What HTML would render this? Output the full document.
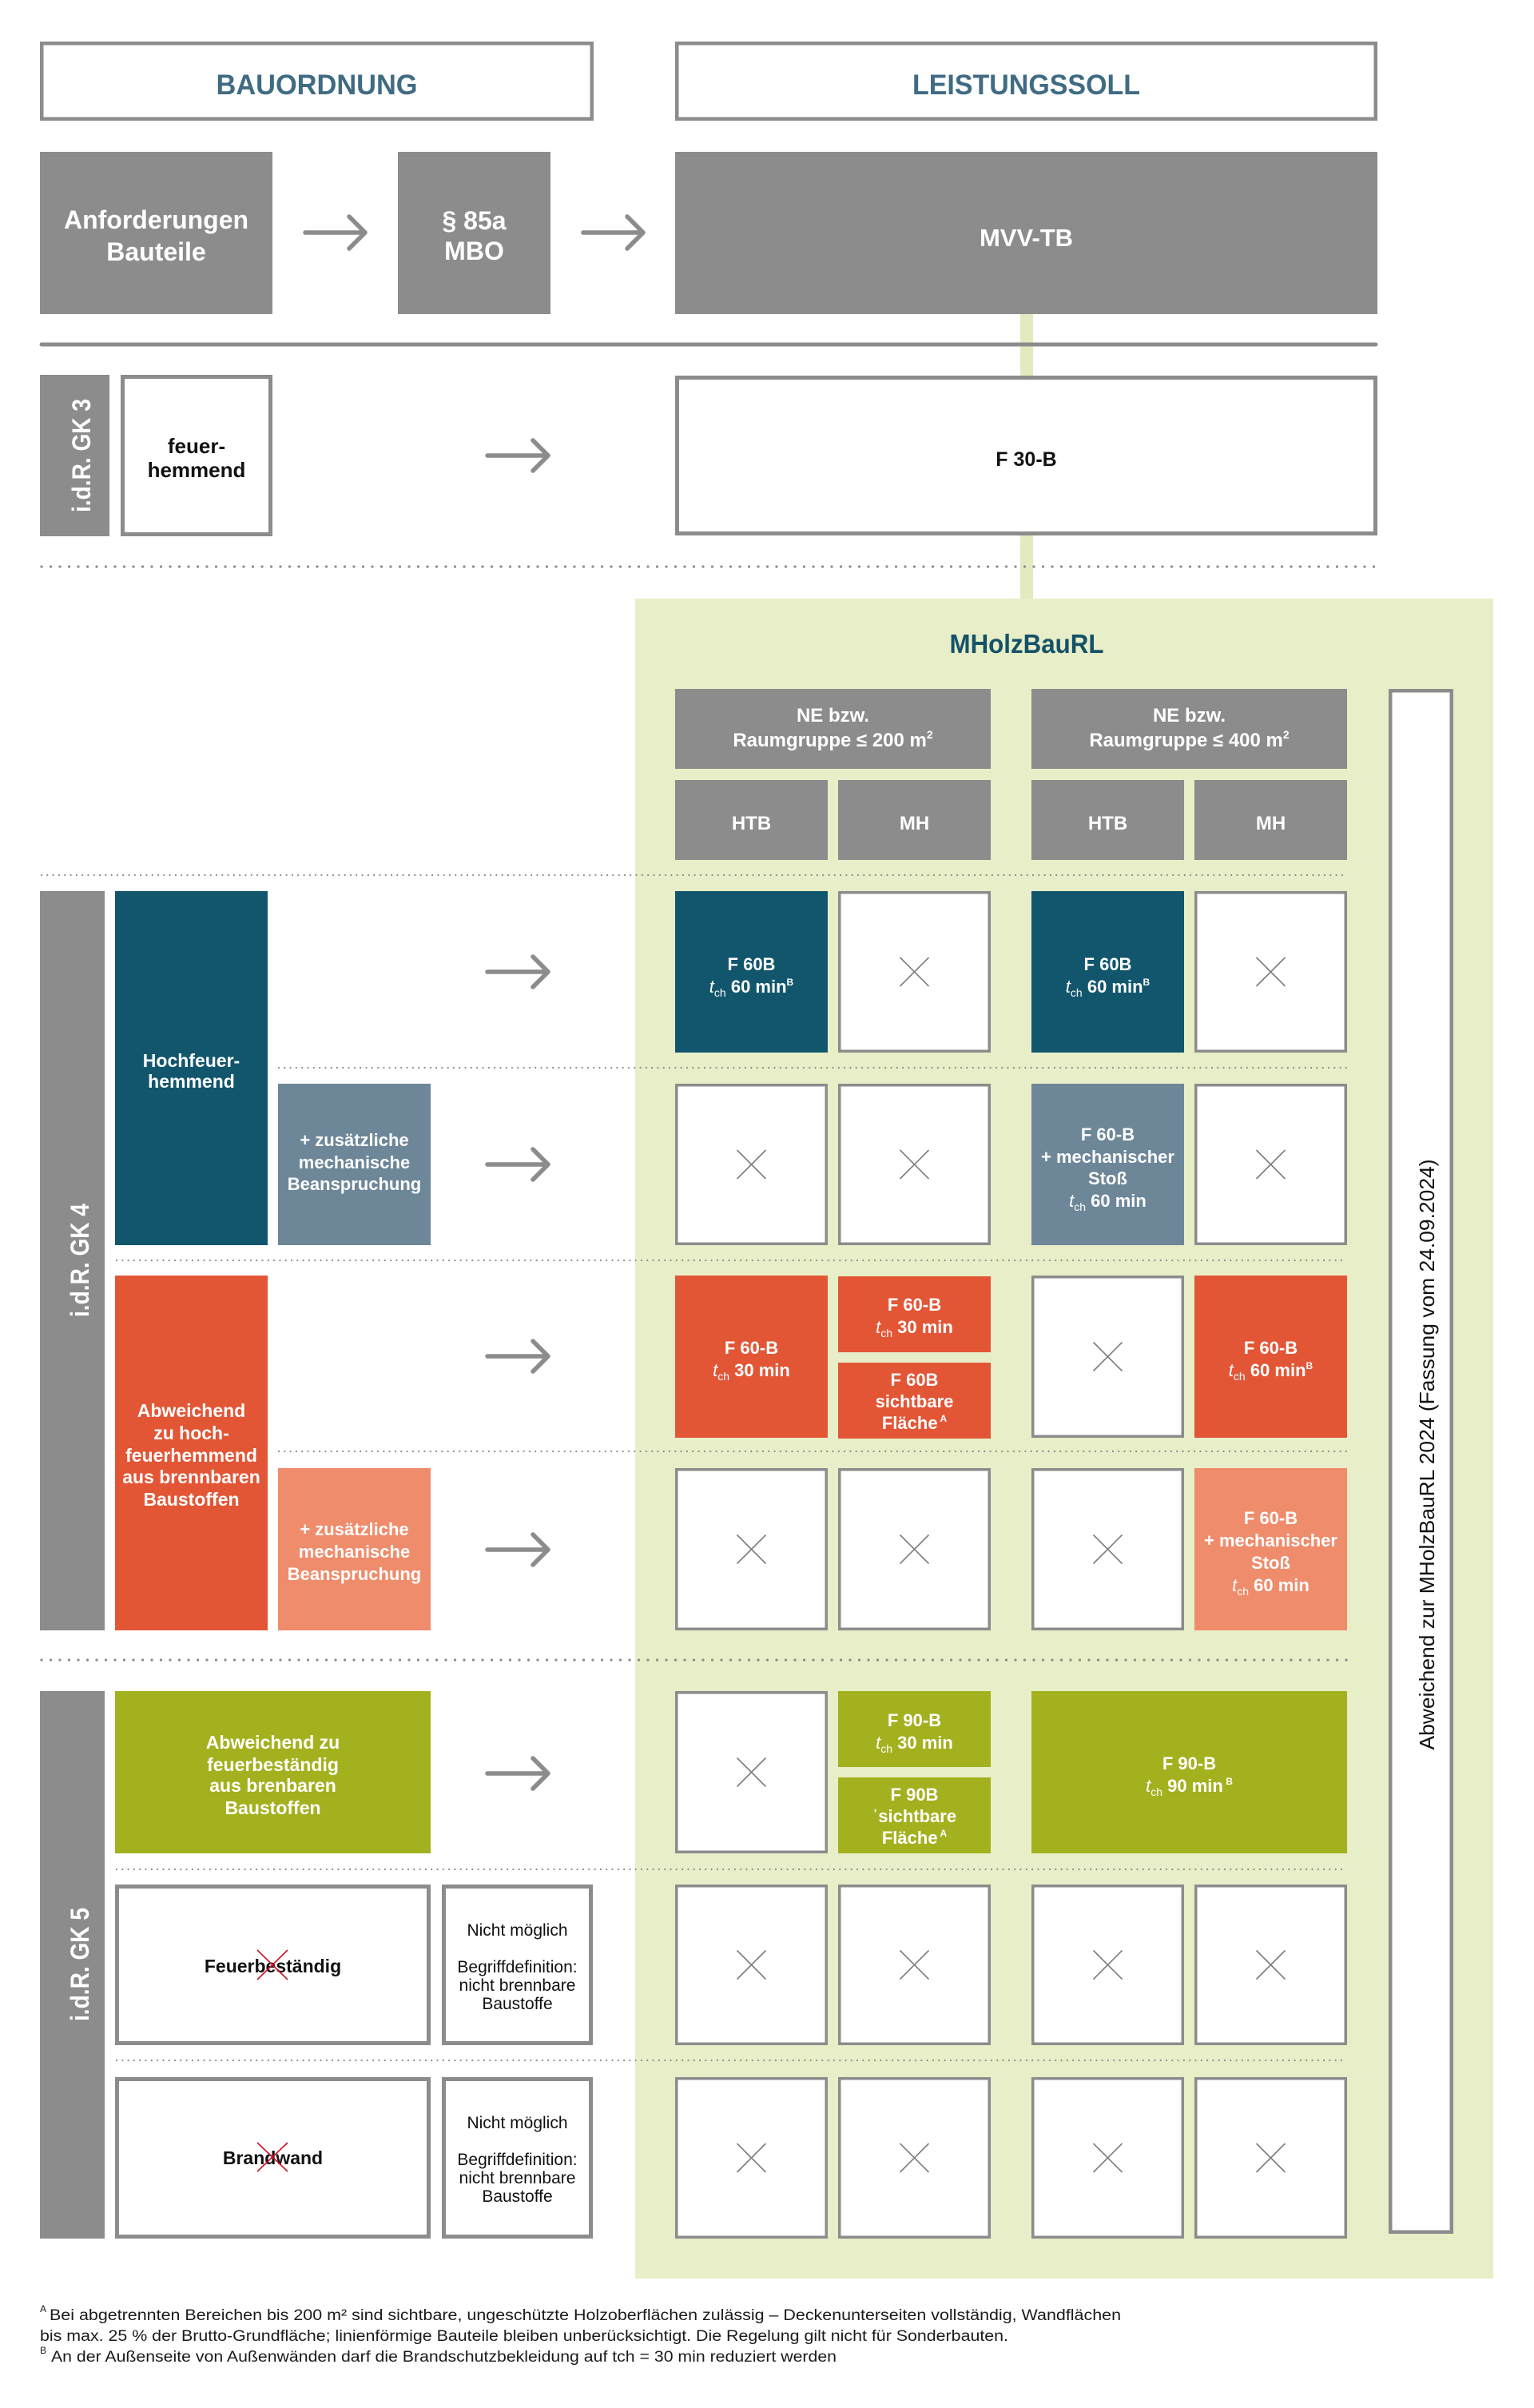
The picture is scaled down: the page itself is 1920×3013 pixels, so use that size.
<!DOCTYPE html>
<html>
<head>
<meta charset="utf-8">
<style>
html,body{margin:0;padding:0;background:#fff;}
svg{display:block;}
text{font-family:"Liberation Sans",Arial,sans-serif;}
.w{fill:#fff;font-weight:bold;text-anchor:middle;}
.c{fill:#fff;font-weight:bold;text-anchor:middle;font-size:22px;}
.k{fill:#111;text-anchor:middle;}
.xc{fill:#fff;stroke:#8c8c8c;stroke-width:3.5;}
.xx{stroke:#7d7d7d;stroke-width:1.6;fill:none;}
.arr{stroke:#8c8c8c;stroke-width:5.5;fill:none;stroke-linecap:round;stroke-linejoin:round;}
.dot{stroke:#8a8a8a;stroke-width:2.2;stroke-dasharray:0 7.3;stroke-linecap:round;}
.bdot{stroke:#8a8a8a;stroke-width:3.2;stroke-dasharray:0 11.5;stroke-linecap:round;}
.ob{fill:#fff;stroke:#8c8c8c;}
.rx{stroke:#d0102a;stroke-width:1.6;}
</style>
</head>
<body>
<svg width="1920" height="3013" viewBox="0 0 1920 3013" xmlns="http://www.w3.org/2000/svg">

<!-- green panel and connector -->
<rect x="795" y="749" width="1074" height="2102" fill="#e8eec7"/>
<rect x="1277" y="393" width="16" height="356" fill="#e3eabf"/>

<!-- top titles -->
<rect class="ob" x="52.25" y="54.25" width="688.5" height="94.5" stroke-width="4.5"/>
<text x="396.5" y="118" font-size="35" font-weight="bold" fill="#3f6b83" text-anchor="middle" textLength="252" lengthAdjust="spacingAndGlyphs">BAUORDNUNG</text>
<rect class="ob" x="847.25" y="54.25" width="874.5" height="94.5" stroke-width="4.5"/>
<text x="1284.5" y="118" font-size="35" font-weight="bold" fill="#3f6b83" text-anchor="middle" textLength="285" lengthAdjust="spacingAndGlyphs">LEISTUNGSSOLL</text>

<!-- second row gray boxes -->
<rect x="50" y="190" width="291" height="203" fill="#8c8c8c"/>
<text class="w" x="195.5" y="286" font-size="32">Anforderungen</text>
<text class="w" x="195.5" y="326" font-size="32">Bauteile</text>
<path class="arr" d="M382 291 H457 M437 271 L457 291 L437 311"/>
<rect x="498" y="190" width="191" height="203" fill="#8c8c8c"/>
<text class="w" x="593.5" y="287" font-size="32">§ 85a</text>
<text class="w" x="593.5" y="325" font-size="32">MBO</text>
<path class="arr" d="M730 291 H805 M785 271 L805 291 L785 311"/>
<rect x="845" y="190" width="879" height="203" fill="#8c8c8c"/>
<text class="w" x="1284.5" y="308" font-size="31">MVV-TB</text>

<line x1="52" y1="431" x2="1722" y2="431" stroke="#8c8c8c" stroke-width="5" stroke-linecap="round"/>

<!-- GK3 -->
<rect x="50" y="469" width="87" height="202" fill="#8c8c8c"/>
<text class="w" transform="translate(113,570) rotate(-90)" font-size="32" textLength="142" lengthAdjust="spacingAndGlyphs">i.d.R. GK 3</text>
<rect class="ob" x="153.5" y="471.5" width="185" height="197" stroke-width="5"/>
<text class="k" x="246" y="567" font-size="26" font-weight="bold">feuer-</text>
<text class="k" x="246" y="597" font-size="26" font-weight="bold">hemmend</text>
<path class="arr" d="M610 570 H686 M667 551 L686 570 L667 589"/>
<rect class="ob" x="847.5" y="472.5" width="874" height="195" stroke-width="5"/>
<text class="k" x="1284.5" y="583" font-size="25" font-weight="bold">F 30-B</text>

<line class="bdot" x1="52" y1="709" x2="1724" y2="709"/>

<!-- MHolzBauRL -->
<text x="1285" y="817" font-size="33" font-weight="bold" fill="#14526a" text-anchor="middle" textLength="193" lengthAdjust="spacingAndGlyphs">MHolzBauRL</text>

<!-- headers -->
<rect x="845" y="862" width="395" height="100" fill="#8c8c8c"/>
<text class="w" x="1042.5" y="903" font-size="24">NE bzw.</text>
<text class="w" x="1042.5" y="934" font-size="24">Raumgruppe ≤ 200 m<tspan font-size="14" dy="-10">2</tspan></text>
<rect x="1291" y="862" width="395" height="100" fill="#8c8c8c"/>
<text class="w" x="1488.5" y="903" font-size="24">NE bzw.</text>
<text class="w" x="1488.5" y="934" font-size="24">Raumgruppe ≤ 400 m<tspan font-size="14" dy="-10">2</tspan></text>

<rect x="845" y="976" width="191" height="100" fill="#8c8c8c"/>
<text class="w" x="940.5" y="1038" font-size="24">HTB</text>
<rect x="1049" y="976" width="191" height="100" fill="#8c8c8c"/>
<text class="w" x="1144.5" y="1038" font-size="24">MH</text>
<rect x="1291" y="976" width="191" height="100" fill="#8c8c8c"/>
<text class="w" x="1386.5" y="1038" font-size="24">HTB</text>
<rect x="1495" y="976" width="191" height="100" fill="#8c8c8c"/>
<text class="w" x="1590.5" y="1038" font-size="24">MH</text>

<!-- vertical box -->
<rect class="ob" x="1740.25" y="864.25" width="76.5" height="1928.5" stroke-width="4.5"/>
<text transform="translate(1795,1820) rotate(-90)" font-size="26" fill="#111" text-anchor="middle" textLength="739" lengthAdjust="spacingAndGlyphs">Abweichend zur MHolzBauRL 2024 (Fassung vom 24.09.2024)</text>

<!-- dotted lines -->
<line class="dot" x1="52" y1="1095" x2="1686" y2="1095"/>
<line class="dot" x1="349" y1="1336" x2="1686" y2="1336"/>
<line class="dot" x1="146" y1="1577" x2="1686" y2="1577"/>
<line class="dot" x1="349" y1="1816" x2="1686" y2="1816"/>
<line class="bdot" x1="52" y1="2077" x2="1686" y2="2077"/>
<line class="dot" x1="146" y1="2339" x2="1686" y2="2339"/>
<line class="dot" x1="146" y1="2578" x2="1686" y2="2578"/>

<!-- GK4 -->
<rect x="50" y="1115" width="81" height="925" fill="#8c8c8c"/>
<text class="w" transform="translate(111,1577) rotate(-90)" font-size="32" textLength="142" lengthAdjust="spacingAndGlyphs">i.d.R. GK 4</text>

<rect x="144" y="1115" width="191" height="443" fill="#12566d"/>
<text class="w" x="239.5" y="1335" font-size="23">Hochfeuer-</text>
<text class="w" x="239.5" y="1361" font-size="23">hemmend</text>

<rect x="348" y="1356" width="191" height="202" fill="#6d8799"/>
<text class="w" x="443.5" y="1434" font-size="22">+ zusätzliche</text>
<text class="w" x="443.5" y="1462" font-size="22">mechanische</text>
<text class="w" x="443.5" y="1489" font-size="22">Beanspruchung</text>

<rect x="144" y="1596" width="191" height="444" fill="#e25636"/>
<text class="w" x="239.5" y="1773" font-size="23">Abweichend</text>
<text class="w" x="239.5" y="1801" font-size="23">zu hoch-</text>
<text class="w" x="239.5" y="1829" font-size="23">feuerhemmend</text>
<text class="w" x="239.5" y="1856" font-size="23">aus brennbaren</text>
<text class="w" x="239.5" y="1884" font-size="23">Baustoffen</text>

<rect x="348" y="1837" width="191" height="203" fill="#ef8c6c"/>
<text class="w" x="443.5" y="1921" font-size="22">+ zusätzliche</text>
<text class="w" x="443.5" y="1949" font-size="22">mechanische</text>
<text class="w" x="443.5" y="1977" font-size="22">Beanspruchung</text>

<!-- GK5 -->
<rect x="50" y="2116" width="81" height="685" fill="#8c8c8c"/>
<text class="w" transform="translate(111,2458) rotate(-90)" font-size="32" textLength="142" lengthAdjust="spacingAndGlyphs">i.d.R. GK 5</text>

<rect x="144" y="2116" width="395" height="203" fill="#a3b11f"/>
<text class="w" x="341.5" y="2188" font-size="23">Abweichend zu</text>
<text class="w" x="341.5" y="2216" font-size="23">feuerbeständig</text>
<text class="w" x="341.5" y="2242" font-size="23">aus brenbaren</text>
<text class="w" x="341.5" y="2270" font-size="23">Baustoffen</text>

<rect class="ob" x="146.5" y="2360.5" width="390" height="196" stroke-width="5"/>
<text class="k" x="341.5" y="2468" font-size="23" font-weight="bold">Feuerbeständig</text>
<line class="rx" x1="322" y1="2440" x2="360" y2="2477"/>
<line class="rx" x1="360" y1="2440" x2="322" y2="2477"/>
<rect class="ob" x="555.5" y="2360.5" width="184" height="196" stroke-width="5"/>
<text class="k" x="647.5" y="2422" font-size="21">Nicht möglich</text>
<text class="k" x="647.5" y="2468" font-size="21">Begriffdefinition:</text>
<text class="k" x="647.5" y="2491" font-size="21">nicht brennbare</text>
<text class="k" x="647.5" y="2514" font-size="21">Baustoffe</text>

<rect class="ob" x="146.5" y="2601.5" width="390" height="197" stroke-width="5"/>
<text class="k" x="341.5" y="2708" font-size="23" font-weight="bold">Brandwand</text>
<line class="rx" x1="322" y1="2681" x2="360" y2="2717"/>
<line class="rx" x1="360" y1="2681" x2="322" y2="2717"/>
<rect class="ob" x="555.5" y="2601.5" width="184" height="197" stroke-width="5"/>
<text class="k" x="647.5" y="2663" font-size="21">Nicht möglich</text>
<text class="k" x="647.5" y="2709" font-size="21">Begriffdefinition:</text>
<text class="k" x="647.5" y="2732" font-size="21">nicht brennbare</text>
<text class="k" x="647.5" y="2755" font-size="21">Baustoffe</text>

<!-- arrows -->
<path class="arr" d="M610 1216 H686 M667 1197 L686 1216 L667 1235"/>
<path class="arr" d="M610 1457 H686 M667 1438 L686 1457 L667 1476"/>
<path class="arr" d="M610 1697 H686 M667 1678 L686 1697 L667 1716"/>
<path class="arr" d="M610 1939 H686 M667 1920 L686 1939 L667 1958"/>
<path class="arr" d="M610 2219 H686 M667 2200 L686 2219 L667 2238"/>

<!-- X cells -->
<g>
<rect class="xc" x="1050.75" y="1116.75" width="187.5" height="198.5"/><path class="xx" d="M1126.5 1198 L1162.5 1234 M1162.5 1198 L1126.5 1234"/>
<rect class="xc" x="1496.75" y="1116.75" width="187.5" height="198.5"/><path class="xx" d="M1572.5 1198 L1608.5 1234 M1608.5 1198 L1572.5 1234"/>

<rect class="xc" x="846.75" y="1357.75" width="187.5" height="198.5"/><path class="xx" d="M922.5 1439 L958.5 1475 M958.5 1439 L922.5 1475"/>
<rect class="xc" x="1050.75" y="1357.75" width="187.5" height="198.5"/><path class="xx" d="M1126.5 1439 L1162.5 1475 M1162.5 1439 L1126.5 1475"/>
<rect class="xc" x="1496.75" y="1357.75" width="187.5" height="198.5"/><path class="xx" d="M1572.5 1439 L1608.5 1475 M1608.5 1439 L1572.5 1475"/>

<rect class="xc" x="1292.75" y="1597.75" width="187.5" height="199.5"/><path class="xx" d="M1368.5 1679.5 L1404.5 1715.5 M1404.5 1679.5 L1368.5 1715.5"/>

<rect class="xc" x="846.75" y="1838.75" width="187.5" height="199.5"/><path class="xx" d="M922.5 1920.5 L958.5 1956.5 M958.5 1920.5 L922.5 1956.5"/>
<rect class="xc" x="1050.75" y="1838.75" width="187.5" height="199.5"/><path class="xx" d="M1126.5 1920.5 L1162.5 1956.5 M1162.5 1920.5 L1126.5 1956.5"/>
<rect class="xc" x="1292.75" y="1838.75" width="187.5" height="199.5"/><path class="xx" d="M1368.5 1920.5 L1404.5 1956.5 M1404.5 1920.5 L1368.5 1956.5"/>

<rect class="xc" x="846.75" y="2117.75" width="187.5" height="199.5"/><path class="xx" d="M922.5 2199.5 L958.5 2235.5 M958.5 2199.5 L922.5 2235.5"/>

<rect class="xc" x="846.75" y="2359.75" width="187.5" height="197.5"/><path class="xx" d="M922.5 2440.5 L958.5 2476.5 M958.5 2440.5 L922.5 2476.5"/>
<rect class="xc" x="1050.75" y="2359.75" width="187.5" height="197.5"/><path class="xx" d="M1126.5 2440.5 L1162.5 2476.5 M1162.5 2440.5 L1126.5 2476.5"/>
<rect class="xc" x="1292.75" y="2359.75" width="187.5" height="197.5"/><path class="xx" d="M1368.5 2440.5 L1404.5 2476.5 M1404.5 2440.5 L1368.5 2476.5"/>
<rect class="xc" x="1496.75" y="2359.75" width="187.5" height="197.5"/><path class="xx" d="M1572.5 2440.5 L1608.5 2476.5 M1608.5 2440.5 L1572.5 2476.5"/>

<rect class="xc" x="846.75" y="2600.75" width="187.5" height="198.5"/><path class="xx" d="M922.5 2682 L958.5 2718 M958.5 2682 L922.5 2718"/>
<rect class="xc" x="1050.75" y="2600.75" width="187.5" height="198.5"/><path class="xx" d="M1126.5 2682 L1162.5 2718 M1162.5 2682 L1126.5 2718"/>
<rect class="xc" x="1292.75" y="2600.75" width="187.5" height="198.5"/><path class="xx" d="M1368.5 2682 L1404.5 2718 M1404.5 2682 L1368.5 2718"/>
<rect class="xc" x="1496.75" y="2600.75" width="187.5" height="198.5"/><path class="xx" d="M1572.5 2682 L1608.5 2718 M1608.5 2682 L1572.5 2718"/>
</g>

<!-- colored cells -->
<rect x="845" y="1115" width="191" height="202" fill="#12566d"/>
<text class="c" x="940.5" y="1214">F 60B</text>
<text class="c" x="940.5" y="1242"><tspan font-style="italic" font-weight="normal">t</tspan><tspan font-size="14" font-weight="normal" dy="5">ch</tspan><tspan dy="-5"> 60 min</tspan><tspan font-size="12" dy="-9">B</tspan></text>

<rect x="1291" y="1115" width="191" height="202" fill="#12566d"/>
<text class="c" x="1386.5" y="1214">F 60B</text>
<text class="c" x="1386.5" y="1242"><tspan font-style="italic" font-weight="normal">t</tspan><tspan font-size="14" font-weight="normal" dy="5">ch</tspan><tspan dy="-5"> 60 min</tspan><tspan font-size="12" dy="-9">B</tspan></text>

<rect x="1291" y="1356" width="191" height="202" fill="#6d8799"/>
<text class="c" x="1386.5" y="1427">F 60-B</text>
<text class="c" x="1386.5" y="1455">+ mechanischer</text>
<text class="c" x="1386.5" y="1482">Stoß</text>
<text class="c" x="1386.5" y="1510"><tspan font-style="italic" font-weight="normal">t</tspan><tspan font-size="14" font-weight="normal" dy="5">ch</tspan><tspan dy="-5"> 60 min</tspan></text>

<rect x="845" y="1596" width="191" height="203" fill="#e25636"/>
<text class="c" x="940.5" y="1694">F 60-B</text>
<text class="c" x="940.5" y="1722"><tspan font-style="italic" font-weight="normal">t</tspan><tspan font-size="14" font-weight="normal" dy="5">ch</tspan><tspan dy="-5"> 30 min</tspan></text>

<rect x="1049" y="1597" width="191" height="95" fill="#e25636"/>
<text class="c" x="1144.5" y="1640">F 60-B</text>
<text class="c" x="1144.5" y="1668"><tspan font-style="italic" font-weight="normal">t</tspan><tspan font-size="14" font-weight="normal" dy="5">ch</tspan><tspan dy="-5"> 30 min</tspan></text>
<rect x="1049" y="1705" width="191" height="95" fill="#e25636"/>
<text class="c" x="1144.5" y="1734">F 60B</text>
<text class="c" x="1144.5" y="1761">sichtbare</text>
<text class="c" x="1144.5" y="1788">Fläche<tspan font-size="12" dy="-9"> A</tspan></text>

<rect x="1495" y="1596" width="191" height="203" fill="#e25636"/>
<text class="c" x="1590.5" y="1694">F 60-B</text>
<text class="c" x="1590.5" y="1722"><tspan font-style="italic" font-weight="normal">t</tspan><tspan font-size="14" font-weight="normal" dy="5">ch</tspan><tspan dy="-5"> 60 min</tspan><tspan font-size="12" dy="-9">B</tspan></text>

<rect x="1495" y="1837" width="191" height="203" fill="#ef8c6c"/>
<text class="c" x="1590.5" y="1907">F 60-B</text>
<text class="c" x="1590.5" y="1935">+ mechanischer</text>
<text class="c" x="1590.5" y="1963">Stoß</text>
<text class="c" x="1590.5" y="1991"><tspan font-style="italic" font-weight="normal">t</tspan><tspan font-size="14" font-weight="normal" dy="5">ch</tspan><tspan dy="-5"> 60 min</tspan></text>

<rect x="1049" y="2116" width="191" height="95" fill="#a3b11f"/>
<text class="c" x="1144.5" y="2160">F 90-B</text>
<text class="c" x="1144.5" y="2188"><tspan font-style="italic" font-weight="normal">t</tspan><tspan font-size="14" font-weight="normal" dy="5">ch</tspan><tspan dy="-5"> 30 min</tspan></text>
<rect x="1049" y="2224" width="191" height="95" fill="#a3b11f"/>
<text class="c" x="1144.5" y="2253">F 90B</text>
<text class="c" x="1144.5" y="2280">ˈsichtbare</text>
<text class="c" x="1144.5" y="2307">Fläche<tspan font-size="12" dy="-9"> A</tspan></text>

<rect x="1291" y="2116" width="395" height="203" fill="#a3b11f"/>
<text class="c" x="1488.5" y="2214">F 90-B</text>
<text class="c" x="1488.5" y="2242"><tspan font-style="italic" font-weight="normal">t</tspan><tspan font-size="14" font-weight="normal" dy="5">ch</tspan><tspan dy="-5"> 90 min</tspan><tspan font-size="12" dy="-9"> B</tspan></text>

<!-- footnotes -->
<text x="50" y="2893" font-size="12" fill="#1a1a1a">A</text>
<text x="62" y="2903" font-size="19" fill="#1a1a1a" textLength="1341" lengthAdjust="spacingAndGlyphs">Bei abgetrennten Bereichen bis 200 m² sind sichtbare, ungeschützte Holzoberflächen zulässig – Deckenunterseiten vollständig, Wandflächen</text>
<text x="50" y="2929" font-size="19" fill="#1a1a1a" textLength="1212" lengthAdjust="spacingAndGlyphs">bis max. 25 % der Brutto-Grundfläche; linienförmige Bauteile bleiben unberücksichtigt. Die Regelung gilt nicht für Sonderbauten.</text>
<text x="50" y="2945" font-size="12" fill="#1a1a1a">B</text>
<text x="64" y="2955" font-size="19" fill="#1a1a1a" textLength="983" lengthAdjust="spacingAndGlyphs">An der Außenseite von Außenwänden darf die Brandschutzbekleidung auf tch = 30 min reduziert werden</text>

</svg>
</body>
</html>
